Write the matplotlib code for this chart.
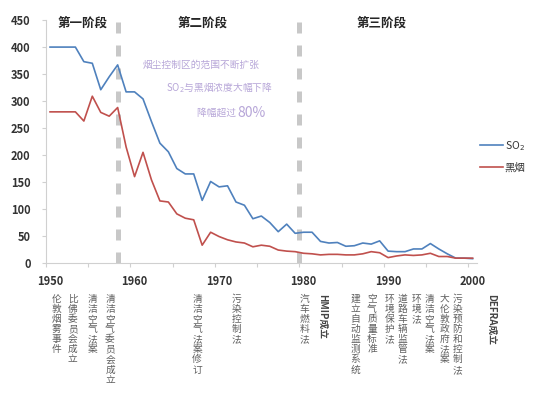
import matplotlib
matplotlib.use("Agg")
import matplotlib.pyplot as plt
import matplotlib.transforms as mtransforms

plt.rcParams['font.family'] = ['Noto Sans CJK SC', 'DejaVu Sans']

# 数据（年均浓度）
years = list(range(1950, 2001))
so2 = [400, 400, 400, 400, 373, 370, 321, 345, 367, 317,
       317, 304, 262, 222, 206, 175, 165, 165, 116, 151,
       141, 143, 113, 107, 82, 87, 75, 58, 72, 55,
       57, 57, 40, 37, 38, 31, 32, 37, 35, 41,
       22, 21, 21, 26, 26, 36, 26, 17, 9, 9,
       8]
smoke = [280, 280, 280, 280, 263, 309, 279, 272, 288, 215,
         160, 205, 154, 115, 113, 91, 83, 80, 33, 57,
         49, 43, 39, 37, 30, 33, 31, 24, 22, 21,
         18, 17, 15, 16, 16, 15, 15, 17, 21, 19,
         10, 13, 15, 14, 15, 18, 12, 12, 9, 9,
         9]

phase_names = ["第一阶段", "第二阶段", "第三阶段"]
phase_x = [1953.9, 1968.0, 1989.2]
phase_breaks = [1958, 1979.5]

note_lines = ["烟尘控制区的范围不断扩张", "SO$_2$与黑烟浓度大幅下降", "降幅超过 80%"]

events = ["伦敦烟雾事件", "比佛委员会成立", "清洁空气法案", "清洁空气委员会成立",
          "清洁空气法案修订", "污染控制法", "汽车燃料法", "建立自动监测系统",
          "空气质量标准", "环境保护法", "道路车辆监管法", "环境法", "清洁空气法案",
          "大伦敦政府法案", "污染预防和控制法"]
event_x = [1950.8, 1952.7, 1955.0, 1957.1, 1967.4, 1972.1, 1980.1, 1986.1,
           1988.1, 1990.2, 1991.7, 1993.4, 1994.9, 1996.7, 1998.2]
rot_events = ["HMIP成立", "DEFRA成立"]
rot_event_x = [1982.2, 2002.2]

blue = '#4f81bd'
red = '#c0504d'
grey = '#d0d0d0'

fig = plt.figure(figsize=(5.5, 3.94), dpi=100)
ax = fig.add_axes([0.0833, 0.3325, 0.7837, 0.6165])

ax.plot(years, so2, color=blue, lw=1.2, label="SO$_2$")
ax.plot(years, smoke, color=red, lw=1.2, label="黑烟")

for xb in phase_breaks:
    ax.axvline(xb, color='#c8c8c8', lw=3.6, linestyle=(0, (2.2, 2.4)), zorder=1)

ax.set_xlim(1949.5, 2000.5)
ax.set_ylim(0, 450)

# 刻度：刻度线在类别边界，标签在年份处
ax.set_xticks([1949.5 + 5 * i for i in range(11)])
ax.set_xticklabels([])
ax.set_xticks([1950, 1960, 1970, 1980, 1990, 2000], minor=True)
ax.set_xticklabels(['1950', '1960', '1970', '1980', '1990', '2000'], minor=True)
ax.tick_params(axis='x', which='major', length=3, color=grey)
ax.tick_params(axis='x', which='minor', length=0, pad=9, labelsize=8,
               labelcolor='#333333')
ax.set_yticks(range(0, 451, 50))
ax.tick_params(axis='y', length=3, color=grey, labelsize=8, labelcolor='#333333', pad=8)
for lab in ax.get_xticklabels(minor=True) + ax.get_yticklabels():
    lab.set_fontweight('bold')

for s in ['top', 'right']:
    ax.spines[s].set_visible(False)
ax.spines['left'].set_color(grey)
ax.spines['bottom'].set_color(grey)

for name, px in zip(phase_names, phase_x):
    ax.text(px, 444, name, ha='center', va='center', fontsize=9,
            fontweight='bold', color='#262626')

note_color = '#b7a6d8'
ax.text(1967.9, 367, note_lines[0], ha='center', va='center', fontsize=7, color=note_color)
ax.text(1970.0, 324, note_lines[1], ha='center', va='center', fontsize=7, color=note_color)
ax.text(1972.2, 278, "降幅超过 ", ha='right', va='center', fontsize=7, color=note_color)
ax.text(1972.2, 278, "80%", ha='left', va='center', fontsize=10, color=note_color)

leg = ax.legend(loc='upper left', bbox_to_anchor=(0.985, 0.55), frameon=False,
                fontsize=7.5, handlelength=2.2, handletextpad=0.2, labelspacing=0.9)
for t in leg.get_texts():
    t.set_color('#333333')

trans = mtransforms.blended_transform_factory(ax.transData, fig.transFigure)
for txt, ex in zip(events, event_x):
    ax.text(ex, 0.255, "\n".join(txt), transform=trans, ha='center', va='top',
            fontsize=7, color='#606060', linespacing=1.02, clip_on=False)
for txt, ex in zip(rot_events, rot_event_x):
    ax.text(ex, 0.255, txt, transform=trans, ha='center', va='top', rotation=-90,
            fontsize=7, color='#444444', fontweight='bold', clip_on=False)

fig.savefig("out.png", dpi=100)
